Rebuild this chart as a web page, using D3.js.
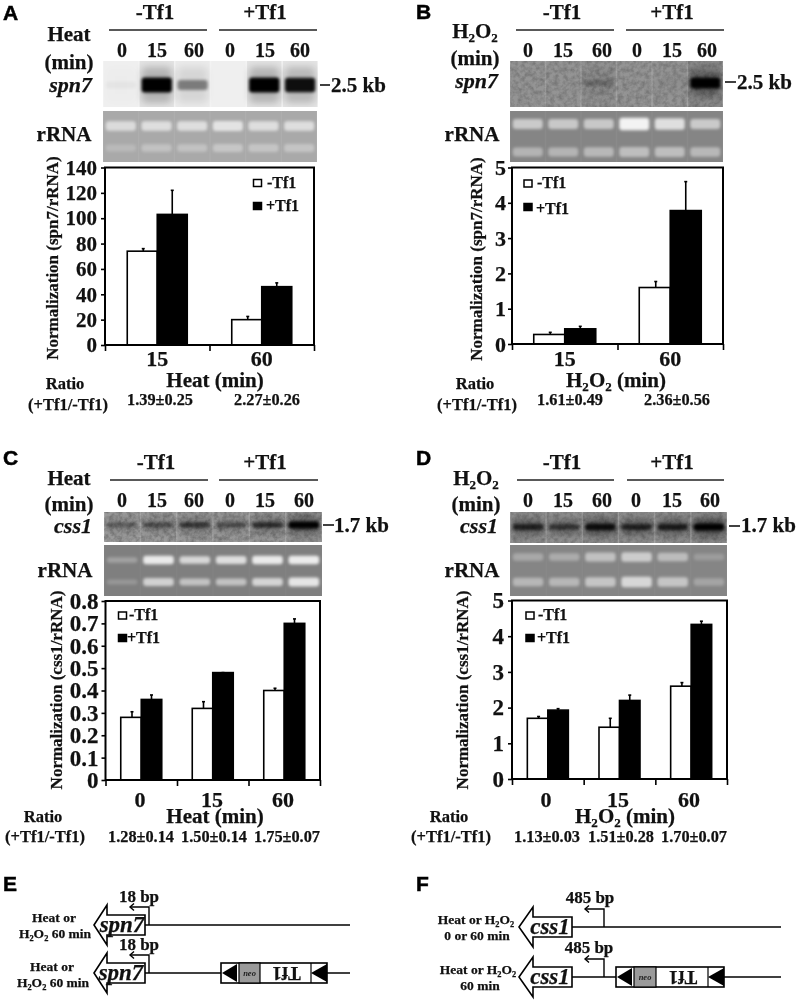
<!DOCTYPE html>
<html><head><meta charset="utf-8">
<script src="https://cdn.jsdelivr.net/npm/d3@7"></script>
<style>
html,body{margin:0;padding:0;background:#fff}
svg{display:block;filter:blur(.3px)}
text{font-family:"Liberation Serif",serif;font-weight:bold;fill:#111;stroke:#111;stroke-width:.25px}
.pl{font-family:"Liberation Sans",sans-serif;font-size:21px;fill:#000;stroke:#000;stroke-width:.5px}
</style></head><body><svg id="c" width="800" height="1002"></svg>
<script>
// ---------- chart values ----------
const treatments = ["-Tf1", "+Tf1"];
const laneLabels = ["0", "15", "60", "0", "15", "60"];

const catsA = ["15", "60"];
const minusA = [74, 20];   const minusTopA = [76, 22.5];
const plusA  = [103, 46];  const plusTopA  = [122, 49];
const ticksA = [0, 20, 40, 60, 80, 100, 120, 140];
const ratiosA = ["1.39±0.25", "2.27±0.26"];

const catsB = ["15", "60"];
const minusB = [0.27, 1.6];  const minusTopB = [0.33, 1.77];
const plusB  = [0.43, 3.78]; const plusTopB  = [0.5, 4.6];
const ticksB = [0, 1, 2, 3, 4, 5];
const ratiosB = ["1.61±0.49", "2.36±0.56"];

const catsC = ["0", "15", "60"];
const minusC = [0.28, 0.32, 0.40];  const minusTopC = [0.305, 0.35, 0.41];
const plusC  = [0.36, 0.48, 0.70];  const plusTopC  = [0.38, 0.48, 0.72];
const ticksC = [0, 0.1, 0.2, 0.3, 0.4, 0.5, 0.6, 0.7, 0.8];
const ratiosC = ["1.28±0.14", "1.50±0.14", "1.75±0.07"];

const catsD = ["0", "15", "60"];
const minusD = [1.7, 1.45, 2.6];  const minusTopD = [1.75, 1.7, 2.7];
const plusD  = [1.93, 2.2, 4.33]; const plusTopD  = [1.97, 2.35, 4.42];
const ticksD = [0, 1, 2, 3, 4, 5];
const ratiosD = ["1.13±0.03", "1.51±0.28", "1.70±0.07"];

// band strengths per lane, estimated from the gel images
const blotA = [0.03, 1, 0.42, 0.0, 1, 0.92];
const blotB = [0.0, 0.0, 0.2, 0.0, 0.02, 1];
const blotC = [0.32, 0.42, 0.55, 0.42, 0.62, 1];
const blotD = [0.68, 0.55, 0.85, 0.68, 0.72, 1];
const rrnaUpperA = [0.62, 0.65, 0.65, 0.72, 0.65, 0.65];
const rrnaLowerA = [0.22, 0.34, 0.34, 0.4, 0.38, 0.38];
const rrnaUpperB = [0.6, 0.58, 0.58, 0.95, 0.78, 0.6];
const rrnaLowerB = [0.45, 0.45, 0.5, 0.55, 0.55, 0.5];
const rrnaUpperC = [0.28, 0.88, 0.72, 0.78, 0.88, 0.9];
const rrnaLowerC = [0.22, 0.75, 0.62, 0.62, 0.78, 0.95];
const rrnaUpperD = [0.3, 0.33, 0.52, 0.62, 0.48, 0.2];
const rrnaLowerD = [0.48, 0.48, 0.62, 0.8, 0.62, 0.3];

// ---------- page layout ----------
const svg = d3.select("#c");
const defs = svg.append("defs");
[["b1",1],["b2",1.8],["b3",3.5]].forEach(([id,s])=>{
  defs.append("filter").attr("id",id).attr("x","-30%").attr("y","-80%").attr("width","160%").attr("height","260%")
    .append("feGaussianBlur").attr("stdDeviation",s);
});
const grain = defs.append("filter").attr("id","grain").attr("x",0).attr("y",0).attr("width","100%").attr("height","100%");
grain.append("feTurbulence").attr("type","fractalNoise").attr("baseFrequency",0.22).attr("numOctaves",3).attr("seed",4);
grain.append("feColorMatrix").attr("values","0 0 0 0 0  0 0 0 0 0  0 0 0 0 0  1.6 0 0 0 -0.55");

function rich(sel, str){
  // "H2O2" gets real subscript digits through tspans
  const parts = str.split(/(H2O2)/).filter(Boolean);
  sel.text(null);
  let pending = 0;
  const fs = parseFloat(sel.attr("font-size"));
  parts.forEach(p=>{
    if(p==="H2O2"){
      [["H",0,1],["2",0.2,0.62],["O",-0.2,1],["2",0.2,0.62]].forEach(([t,dy,k])=>{
        sel.append("tspan").attr("dy",(dy*fs)+"px").attr("font-size",fs*k+"px").text(t);
      });
      pending = -0.2*fs;
    } else {
      const sp = sel.append("tspan").text(p);
      if(pending) sp.attr("dy",pending+"px");
      pending = 0;
    }
  });
  return sel;
}
function T(x,y,s,fs,anchor,extra){
  const t = svg.append("text").attr("x",x).attr("y",y).attr("font-size",fs).attr("text-anchor",anchor||"middle");
  if(extra) t.attr("font-style",extra);
  return rich(t,s);
}

function drawGel(g, box, bandCfg){
  const lanes = d3.scaleBand().domain(d3.range(6)).range([box.x0,box.x1]).paddingInner(0.04).paddingOuter(0.02);
  const bw = lanes.bandwidth();
  const clipId = "cl"+Math.round(box.x0)+"_"+Math.round(box.y0);
  defs.append("clipPath").attr("id",clipId).append("rect")
    .attr("x",box.x0).attr("y",box.y0).attr("width",box.x1-box.x0).attr("height",box.y1-box.y0);
  const G = g.append("g").attr("clip-path",`url(#${clipId})`);
  G.append("rect").attr("x",box.x0).attr("y",box.y0).attr("width",box.x1-box.x0).attr("height",box.y1-box.y0).attr("fill",box.gap);
  G.selectAll("rect.lane").data(d3.range(6)).join("rect").attr("class","lane")
    .attr("x",i=>lanes(i)).attr("y",box.y0).attr("width",bw).attr("height",box.y1-box.y0).attr("fill",box.bg);
  if(box.grain) G.append("rect").attr("x",box.x0).attr("y",box.y0).attr("width",box.x1-box.x0).attr("height",box.y1-box.y0)
     .attr("filter","url(#grain)").attr("opacity",box.grain);
  bandCfg.forEach(b=>{
    if(b.tint) G.selectAll(null).data(b.values).join("rect")
      .attr("x",(d,i)=>lanes(i)).attr("y",box.y0).attr("width",bw).attr("height",box.y1-box.y0)
      .attr("fill",b.color).attr("opacity",d=>d*b.tint);
    if(b.halo) G.selectAll(null).data(b.values).join("rect")
      .attr("x",(d,i)=>lanes(i)+bw*0.06).attr("y",b.y-b.h*1.2).attr("width",bw*0.88).attr("height",b.h*2.4).attr("rx",5)
      .attr("fill",b.color).attr("opacity",d=>d*b.halo).attr("filter","url(#b3)");
    G.selectAll(null).data(b.values).join("rect")
      .attr("x",(d,i)=>lanes(i)+bw*0.06).attr("width",bw*0.88)
      .attr("y",d=>b.y-b.h*(0.45+0.55*d)/2).attr("height",d=>b.h*(0.45+0.55*d)).attr("rx",3)
      .attr("fill",b.color).attr("opacity",d=>Math.min(1,d*(b.gain||1))).attr("filter",`url(#${b.blur||"b2"})`);
  });
}

function panel(p){
  const g = svg.append("g");
  svg.append("text").attr("class","pl").attr("x",p.letter[0]).attr("y",p.letter[1]).text(p.name);

  treatments.forEach((t,i)=>{
    T(p.headX[i],p.headY,t,21);
    g.append("line").attr("x1",p.rule[i][0]).attr("x2",p.rule[i][1]).attr("y1",p.ruleY).attr("y2",p.ruleY).attr("stroke","#222").attr("stroke-width",1.5);
  });
  laneLabels.forEach((l,i)=>T(p.laneX[i],p.laneY,l,20));
  T(p.stim[0],p.stim[1],p.stimulus,21);
  T(p.stim[0],p.stim[2],"(min)",21);
  T(p.gene[0],p.gene[1],p.geneName,22,"end","italic");
  T(p.rr[0],p.rr[1],"rRNA",21);

  drawGel(g,p.blot,[{y:p.blot.band,h:p.blot.bh,color:"#000",values:p.blotVals,halo:p.blot.halo,tint:p.blot.tint,gain:1}]);
  drawGel(g,p.rrna,[
    {y:p.rrna.band1,h:p.rrna.bh,color:"#fff",values:p.upper,gain:0.95},
    {y:p.rrna.band2,h:p.rrna.bh,color:"#fff",values:p.lower,gain:0.85}]);
  g.append("line").attr("x1",p.kb[0]).attr("x2",p.kb[1]).attr("y1",p.kb[2]).attr("y2",p.kb[2]).attr("stroke","#111").attr("stroke-width",1.6);
  T(p.kb[3],p.kb[4],p.size,21,"start");

  // bar chart
  const {l,r,t,b} = p.plot;
  const x = d3.scaleBand().domain(p.cats).range([l,r]);
  const y = d3.scaleLinear().domain([0,p.ticks[p.ticks.length-1]]).range([b,t]);
  const cx = c=>x(c)+x.bandwidth()/2;

  const plot = svg.append("g");
  const series = [
    {vals:p.minus,top:p.minusTop,fill:"#fff",off:-1},
    {vals:p.plus,top:p.plusTop,fill:"#000",off:0}];
  series.forEach(s=>{
    p.cats.forEach((c,i)=>{
      const ex = cx(c)+(s.off<0?-p.barW/2:p.barW/2)+ (s.off<0?1:0);
      plot.append("line").attr("x1",ex).attr("x2",ex).attr("y1",y(s.vals[i])).attr("y2",y(s.top[i])).attr("stroke","#000").attr("stroke-width",1.6);
      plot.append("line").attr("x1",ex-1.5).attr("x2",ex+1.5).attr("y1",y(s.top[i])).attr("y2",y(s.top[i])).attr("stroke","#000").attr("stroke-width",1.6);
    });
  });
  series.forEach(s=>{
    plot.selectAll(null).data(p.cats).join("rect")
      .attr("x",c=>cx(c)+(s.off<0?-p.barW:0)).attr("width",p.barW)
      .attr("y",(c,i)=>y(s.vals[i])).attr("height",(c,i)=>b-y(s.vals[i]))
      .attr("fill",s.fill).attr("stroke","#000").attr("stroke-width",1.6);
  });
  plot.append("rect").attr("x",l).attr("y",t).attr("width",r-l).attr("height",b-t).attr("fill","none").attr("stroke","#000").attr("stroke-width",2);

  const yAxis = d3.axisLeft(y).tickValues(p.ticks).tickFormat(d=>p.fmt(d)).tickSize(4).tickSizeOuter(0).tickPadding(p.tickPad);
  const ya = svg.append("g").attr("transform",`translate(${l},0)`).call(yAxis);
  ya.select(".domain").remove();
  ya.selectAll("line").attr("stroke","#000").attr("stroke-width",1.6);
  ya.selectAll("text").attr("font-size",p.tickFs).attr("font-family",'"Liberation Serif",serif').attr("fill","#111").attr("font-weight","bold");

  const edge = d3.scaleLinear().domain([0,p.cats.length]).range([l,r]);
  const xt = svg.append("g").attr("transform",`translate(0,${b})`)
    .call(d3.axisBottom(edge).tickValues(d3.range(p.cats.length+1)).tickFormat("").tickSize(6).tickSizeOuter(0));
  xt.select(".domain").remove();
  xt.selectAll("text").remove();
  xt.selectAll("line").attr("stroke","#000").attr("stroke-width",1.6);

  p.cats.forEach((c,i)=>T(p.catX?p.catX[i]:cx(c),p.catY,c,22));

  T(p.xt[0],p.xt[1],p.xTitle,21);
  svg.append("text").attr("transform",`translate(${p.yt[0]},${p.yt[1]}) rotate(-90)`).attr("text-anchor","middle").attr("font-size",17).text(p.yTitle);

  T(p.ratio[0],p.ratio[1],"Ratio",16.5);
  T(p.ratio[2],p.ratio[3],"(+Tf1/-Tf1)",16.5);
  p.ratios.forEach((s,i)=>T(p.ratX[i],p.ratY,s,16.3));

  const L = p.leg;
  [["-Tf1","#fff",L.y1,L.ty1,L.tx1],["+Tf1","#000",L.y2,L.ty2,L.tx2]].forEach(([s,f,ry,ty,tx])=>{
    plot.append("rect").attr("x",L.x).attr("y",ry).attr("width",8).attr("height",7).attr("fill",f).attr("stroke","#000").attr("stroke-width",1.5);
    T(tx,ty,s,16,"start");
  });
}

panel({name:"A",letter:[3,20],headX:[155,265],headY:19,rule:[[109,207],[219,317]],ruleY:30,
  laneX:[122,157,194,230,265,300],laneY:57,stimulus:"Heat",stim:[69,41,69],gene:[92,92],geneName:"spn7",rr:[64,141],
  blot:{x0:103,x1:318,y0:61,y1:107,bg:"#efefef",gap:"#f3f3f3",band:85,bh:15,halo:0.2,tint:0.05},blotVals:blotA,
  rrna:{x0:103,x1:317,y0:111,y1:162,bg:"#a9a9a9",gap:"#aeaeae",band1:126,band2:148,bh:12},upper:rrnaUpperA,lower:rrnaLowerA,
  kb:[320,330,85,331,92],size:"2.5 kb",
  plot:{l:105,r:314,t:167.5,b:345},cats:catsA,minus:minusA,minusTop:minusTopA,plus:plusA,plusTop:plusTopA,barW:30,
  ticks:ticksA,fmt:d=>d,tickPad:4,tickFs:21,catY:366,xTitle:"Heat (min)",xt:[215,387],
  yTitle:"Normalization (spn7/rRNA)",yt:[58,258],ratio:[65,389,68,410],ratios:ratiosA,ratX:[160,267],ratY:405,
  leg:{x:253.5,y1:179.5,ty1:188,tx1:267,y2:202.5,ty2:211,tx2:266}});

panel({name:"B",letter:[416,19],headX:[562,672],headY:19,rule:[[516,614],[626,724]],ruleY:30,
  laneX:[528,563,602,637,672,707],laneY:57,stimulus:"H2O2",stim:[475,38,65],gene:[498,88],geneName:"spn7",rr:[472,141],
  blot:{x0:510,x1:723,y0:61,y1:107,bg:"#949494",gap:"#a4a4a4",band:83,bh:11,grain:0.25,halo:0.3,tint:0.07},blotVals:blotB,
  rrna:{x0:510,x1:723,y0:111,y1:162,bg:"#858585",gap:"#8a8a8a",band1:124,band2:152,bh:13},upper:rrnaUpperB,lower:rrnaLowerB,
  kb:[725,736,82,737,89],size:"2.5 kb",
  plot:{l:512,r:723,t:167.5,b:344},cats:catsB,minus:minusB,minusTop:minusTopB,plus:plusB,plusTop:plusTopB,barW:31,
  ticks:ticksB,fmt:d=>d,tickPad:2,tickFs:22,catY:366,xTitle:"H2O2 (min)",xt:[616,387],
  yTitle:"Normalization (spn7/rRNA)",yt:[482,259],ratio:[475,389,477,410],ratios:ratiosB,ratX:[570,677],ratY:405,
  leg:{x:524,y1:180,ty1:188,tx1:537,y2:203.5,ty2:214,tx2:536}});

panel({name:"C",letter:[3,465],headX:[156,265],headY:469,rule:[[110,208],[219,318]],ruleY:480,
  laneX:[122,157,194,230,265,304],laneY:507,stimulus:"Heat",stim:[69,485,511],gene:[92,533],geneName:"css1",rr:[65,577],
  blot:{x0:104,x1:322,y0:512,y1:542,bg:"#a2a2a2",gap:"#aeaeae",band:525,bh:7,grain:0.3,halo:0.35,tint:0.1},blotVals:blotC,
  rrna:{x0:104,x1:322,y0:545,y1:596,bg:"#7f7f7f",gap:"#828282",band1:560,band2:582,bh:9},upper:rrnaUpperC,lower:rrnaLowerC,
  kb:[323,334,525,334,532],size:"1.7 kb",
  plot:{l:105.5,r:320,t:601,b:780},cats:catsC,minus:minusC,minusTop:minusTopC,plus:plusC,plusTop:plusTopC,barW:20.5,
  ticks:ticksC,fmt:d=>d===0?"0":d.toFixed(1),tickPad:3,tickFs:23,catY:807,catX:[140,212,283],xTitle:"Heat (min)",xt:[215,823],
  yTitle:"Normalization (css1/rRNA)",yt:[62,690],ratio:[43,822,45,842],ratios:ratiosC,ratX:[141,214,287],ratY:842,
  leg:{x:118.5,y1:612,ty1:620,tx1:129,y2:634.5,ty2:643,tx2:127}});

panel({name:"D",letter:[416,465],headX:[562,672],headY:469,rule:[[517,614],[627,724]],ruleY:480,
  laneX:[528,563,602,636,672,710],laneY:507,stimulus:"H2O2",stim:[476,485,511],gene:[498,533],geneName:"css1",rr:[472,577],
  blot:{x0:510,x1:727,y0:512,y1:543,bg:"#9c9c9c",gap:"#a6a6a6",band:527,bh:7,grain:0.25,halo:0.45,tint:0.12},blotVals:blotD,
  rrna:{x0:510,x1:727,y0:545,y1:596,bg:"#858585",gap:"#888888",band1:557,band2:582,bh:12},upper:rrnaUpperD,lower:rrnaLowerD,
  kb:[729,740,526,741,532],size:"1.7 kb",
  plot:{l:512,r:727,t:600.5,b:779},cats:catsD,minus:minusD,minusTop:minusTopD,plus:plusD,plusTop:plusTopD,barW:20.5,
  ticks:ticksD,fmt:d=>d,tickPad:4,tickFs:23,catY:807,catX:[546,618,689],xTitle:"H2O2 (min)",xt:[625,823],
  yTitle:"Normalization (css1/rRNA)",yt:[468,690],ratio:[449,822,451,842],ratios:ratiosD,ratX:[547,621,694],ratY:842,
  leg:{x:526,y1:612,ty1:620,tx1:538,y2:634.5,ty2:643,tx2:537}});

// ---------- schematics E and F ----------
function geneRow(o){
  const g = svg.append("g");
  g.append("line").attr("x1",o.right).attr("x2",o.end).attr("y1",o.y).attr("y2",o.y).attr("stroke","#000").attr("stroke-width",1.6);
  const pts = [[o.tip,o.y],[o.neck,o.y-20],[o.neck,o.y-10],[o.right,o.y-10],[o.right,o.y+10],[o.neck,o.y+10],[o.neck,o.y+20]];
  g.append("path").attr("d",d3.line()(pts)+"Z").attr("fill","#fff").attr("stroke","#000").attr("stroke-width",1.6);
  T(o.labelX,o.y+7,o.gene,o.geneFs,"middle","italic");
  g.append("path").attr("d",d3.line()([[o.tss,o.y],[o.tss,o.y-18],[o.tssEnd,o.y-18]])).attr("fill","none").attr("stroke","#000").attr("stroke-width",1.4);
  g.append("path").attr("d",d3.line()([[o.tssEnd+4,o.y-21.5],[o.tssEnd,o.y-18],[o.tssEnd+4,o.y-14.5]])).attr("fill","none").attr("stroke","#000").attr("stroke-width",1.4);
  T(o.bpX,o.bpY,o.bp,o.bpFs);
  T(o.l1[0],o.l1[1],o.l1[2],13.5);
  T(o.l2[0],o.l2[1],o.l2[2],13.5);
  if(o.tf){
    const f=o.tf, top=o.y-10, h=20;
    g.append("rect").attr("x",f.x0).attr("y",top).attr("width",f.x3-f.x0).attr("height",h).attr("fill","#fff").attr("stroke","#000").attr("stroke-width",1.6);
    g.append("rect").attr("x",f.n0).attr("y",top).attr("width",f.n1-f.n0).attr("height",h).attr("fill","#9a9a9a").attr("stroke","#000").attr("stroke-width",1.2);
    g.append("line").attr("x1",f.x2).attr("x2",f.x2).attr("y1",top).attr("y2",top+h).attr("stroke","#000").attr("stroke-width",1.2);
    [[f.x0+1,f.n0-2],[f.x2,f.x3]].forEach(([a,b])=>{
      g.append("path").attr("d",d3.line()([[a,o.y],[b,top+1],[b,top+h-1]])+"Z").attr("fill","#000");
    });
    svg.append("text").attr("x",(f.n0+f.n1)/2).attr("y",o.y+3).attr("text-anchor","middle").attr("font-size",8.5).attr("font-style","italic").style("fill","#222").style("stroke","none").text("neo");
    svg.append("text").attr("transform",`translate(${(f.n1+f.x2)/2+1},${o.y-6}) rotate(180)`).attr("text-anchor","middle").attr("font-size",19).text("Tf1");
  }
}
svg.append("text").attr("class","pl").attr("x",3).attr("y",891).text("E");
svg.append("text").attr("class","pl").attr("x",416).attr("y",891).text("F");

geneRow({y:925,tip:94,neck:107,right:145,end:350,gene:"spn7",geneFs:23,labelX:122,tss:149,tssEnd:130,bp:"18 bp",bpX:139,bpY:902,bpFs:17,
  l1:[54,922,"Heat or"],l2:[55,938,"H2O2 60 min"]});
geneRow({y:973,tip:94,neck:107,right:145,end:350,gene:"spn7",geneFs:23,labelX:121,tss:149,tssEnd:130,bp:"18 bp",bpX:139,bpY:950,bpFs:17,
  l1:[52,971,"Heat or"],l2:[53,987,"H2O2 60 min"],
  tf:{x0:221,n0:239,n1:260,x2:311,x3:327}});
geneRow({y:927,tip:519,neck:533,right:572,end:781,gene:"css1",geneFs:23,labelX:550,tss:604,tssEnd:585,bp:"485 bp",bpX:590,bpY:903,bpFs:17,
  l1:[476,924,"Heat or H2O2"],l2:[477,940,"0 or 60 min"]});
geneRow({y:977,tip:519,neck:533,right:572,end:781,gene:"css1",geneFs:23,labelX:550,tss:604,tssEnd:585,bp:"485 bp",bpX:589,bpY:953,bpFs:17,
  l1:[478,974,"Heat or H2O2"],l2:[480,990,"60 min"],
  tf:{x0:616,n0:634,n1:656,x2:708,x3:724}});
</script></body></html>
